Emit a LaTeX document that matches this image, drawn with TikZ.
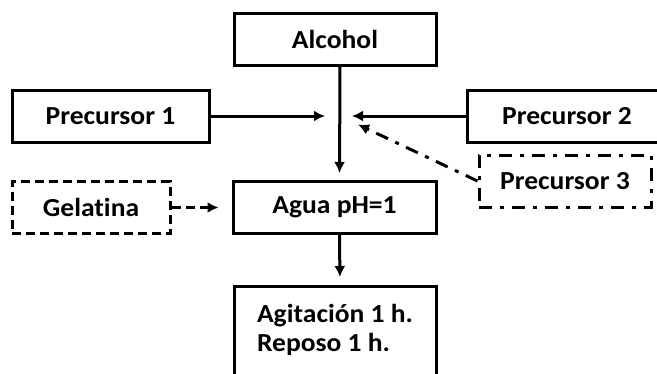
\documentclass[tikz,border=0pt]{standalone}
\usepackage{fontspec}
\setmainfont{Carlito}[FakeStretch=1.06,Ligatures=NoCommon]
\usetikzlibrary{arrows.meta}
\usetikzlibrary{positioning}
\tikzset{
  Caja/.style={draw,line width=3pt,minimum width=#1,minimum height=52pt,inner sep=0pt}, % Kästen
  Caja/.default=202pt,
  Flecha/.style={line width=3pt,->,shorten >=#1}, % Pfeile
  Flecha/.default=0pt,
  Raya/.style={dash pattern=on 9pt off 5pt}, % gestrichelt
  RayaPunto/.style={dash pattern=on 13pt off 8pt on 4pt off 8pt} % Strich-Punkt
}

\begin{document}
\begin{tikzpicture}[
x=1pt, y=-1pt,
font=\fontsize{26}{29}\selectfont\bfseries,
>={Latex[length=11pt,width=11pt]} % Pfeilspitzen
]
\useasboundingbox (0,0) rectangle (657,373);

%Kästen
\node[Caja=202pt] (alcohol) at (335,39) {Alcohol};
\node[Caja=197pt] (prec1) at (110.5,116) {Precursor 1};
\node[Caja=200pt] (prec2) at (567,116) {Precursor 2};
\node[Caja=203pt] (agua) at (334.5,207.5) {Agua pH=1};
\node[Caja=158pt,Raya] (gelatina) at (91,207.5) {Gelatina};
\node[Caja=172pt,RayaPunto] (prec3) at (565,181) {Precursor 3};
\node[Caja,anchor=north,minimum height=0pt,inner ysep=18pt,text depth=18pt,
  align=left] (agit) at (335,285) {Agitación 1 h.\\Reposo 1 h.};

%Mischpunkt
\coordinate (mix) at ([xshift=5pt]alcohol.south |- prec1.east);

%Pfeile
\draw[Flecha=7pt] ([xshift=5pt]alcohol.south) -- ([xshift=5pt]agua.north);
\draw[Flecha=8pt] ([xshift=5pt]agua.south) -- ([xshift=5pt]agit.north);
\draw[Flecha=15pt] (prec1.east) -- (mix);
\draw[Flecha=12pt] (prec2.west) -- (mix);
\draw[Flecha=20pt,RayaPunto] (prec3.west) -- (mix);
\draw[Flecha=13pt,Raya] (gelatina.east) -- (agua.west);

\end{tikzpicture}
\end{document}
